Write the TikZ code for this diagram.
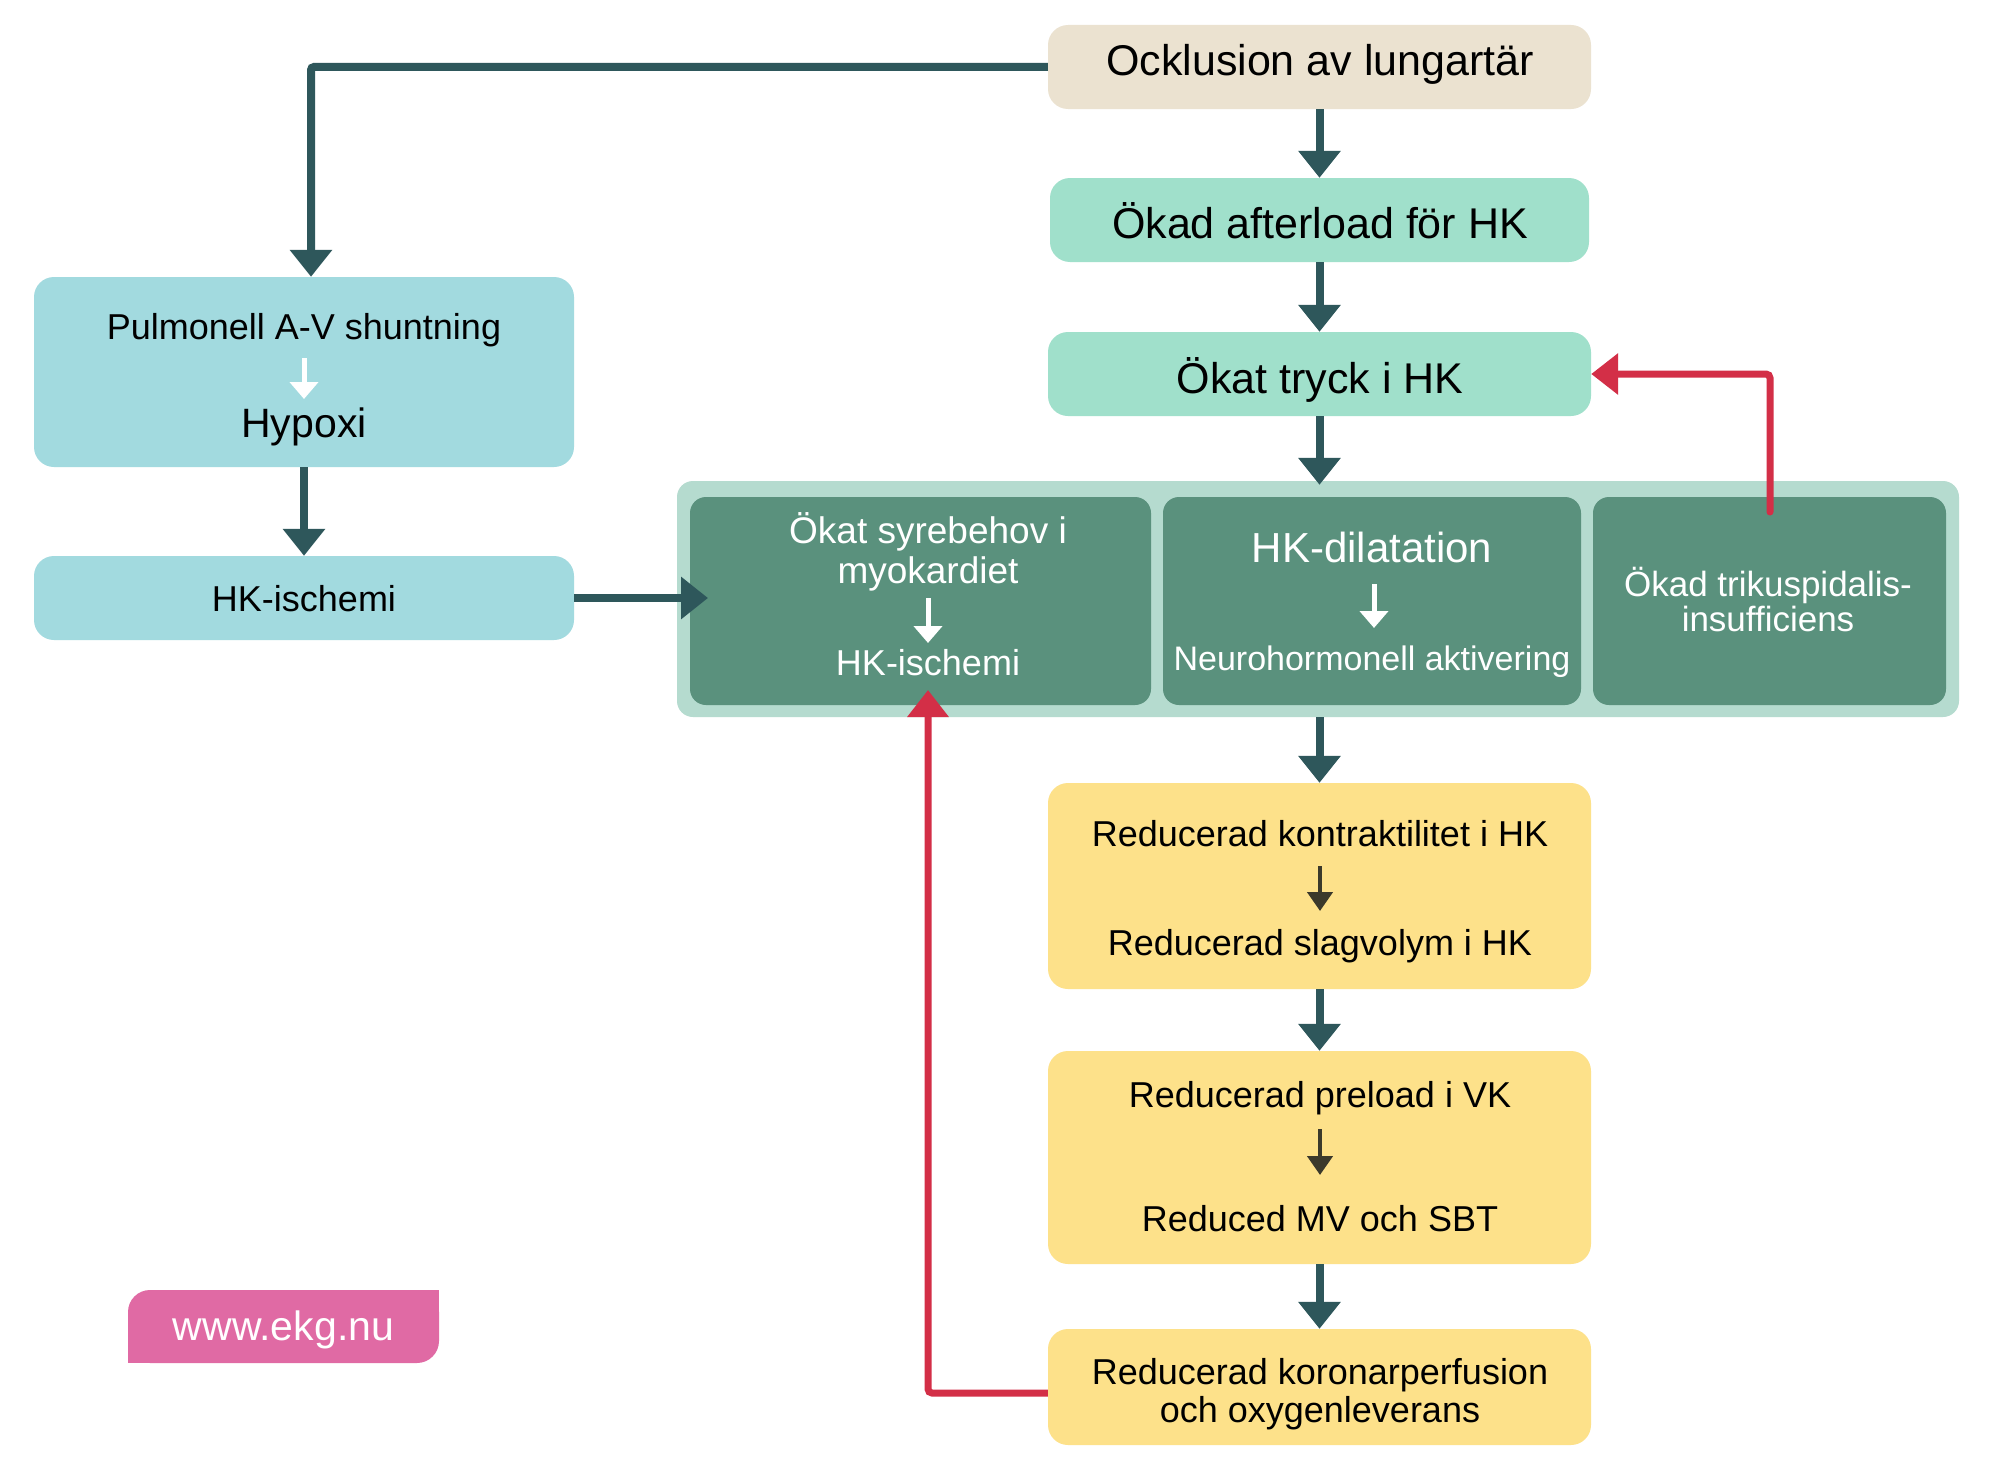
\documentclass[tikz,border=0pt]{standalone}
\usepackage{fontspec}
\setmainfont{Liberation Sans}
\usetikzlibrary{arrows.meta}
\definecolor{occc}{HTML}{EBE2D0}
\definecolor{mintc}{HTML}{A0E0CB}
\definecolor{cyanc}{HTML}{A2DADF}
\definecolor{outerc}{HTML}{B5DBCF}
\definecolor{darkgc}{HTML}{5A917D}
\definecolor{yellowc}{HTML}{FDE18A}
\definecolor{pinkc}{HTML}{E06AA4}
\definecolor{arrowc}{HTML}{2E575B}
\definecolor{redc}{HTML}{D32F47}
\definecolor{olivec}{HTML}{3B392B}
\newcommand\fsz[1]{\fontsize{#1}{#1}\selectfont}
\begin{document}
\begin{tikzpicture}[x=1pt,y=-1pt,
  box/.style={rectangle, rounded corners=20pt, inner sep=0pt, draw=none},
  ibox/.style={rectangle, rounded corners=16pt, inner sep=0pt, draw=none, fill=darkgc},
  txt/.style={anchor=base, inner sep=0pt, align=center},
  flow/.style={draw=arrowc, line width=8pt, -{Triangle[width=41pt,length=27pt]}},
  fb/.style={draw=redc, line width=7pt, -{Triangle[width=40pt,length=27pt]}, rounded corners=4pt},
  wa/.style={draw=white, line width=5pt, -{Triangle[width=28pt,length=17pt]}},
  ya/.style={draw=olivec, line width=4.5pt, -{Triangle[width=25pt,length=19pt]}},
]
\useasboundingbox[fill=white] (0,0) rectangle (2000,1480);

% boxes
\node[box, fill=occc, minimum width=543pt, minimum height=84pt] (occ) at (1319.5,67) {};
\node[box, fill=mintc, minimum width=539pt, minimum height=84pt] (after) at (1319.5,220) {};
\node[box, fill=mintc, minimum width=543pt, minimum height=84pt] (tryck) at (1319.5,374) {};
\node[box, fill=cyanc, minimum width=540pt, minimum height=190pt] (pulm) at (304,372) {};
\node[box, fill=cyanc, minimum width=540pt, minimum height=84pt] (hkl) at (304,598) {};
\node[rectangle, rounded corners=16pt, inner sep=0pt, fill=outerc, minimum width=1282pt, minimum height=236pt] (outer) at (1318,599) {};
\node[ibox, minimum width=461pt, minimum height=208pt] (b1) at (920.5,601) {};
\node[ibox, minimum width=418pt, minimum height=208pt] (b2) at (1372,601) {};
\node[ibox, minimum width=353pt, minimum height=208pt] (b3) at (1769.5,601) {};
\node[box, fill=yellowc, minimum width=543pt, minimum height=206pt] (y1) at (1319.5,886) {};
\node[box, fill=yellowc, minimum width=543pt, minimum height=213pt] (y2) at (1319.5,1157.5) {};
\node[box, fill=yellowc, minimum width=543pt, minimum height=116pt] (y3) at (1319.5,1387) {};
\node[box, rounded corners=22pt, fill=pinkc, minimum width=311pt, minimum height=73pt] (ekg) at (283.5,1326.5) {};
\fill[pinkc] (ekg.north east) rectangle ++(-30,30);
\fill[pinkc] (ekg.south west) rectangle ++(30,-30);

% texts
\node[txt, font=\fsz{43}] (t-occ) at (1320,75) {Ocklusion av lungartär};
\node[txt, font=\fsz{43}] (t-after) at (1320,238) {Ökad afterload för HK};
\node[txt, font=\fsz{43}] (t-tryck) at (1320,393) {Ökat tryck i HK};
\node[txt, font=\fsz{36}] (t-pulm) at (304,339) {Pulmonell A-V shuntning};
\node[txt, font=\fsz{41}] (t-hyp) at (304,437) {Hypoxi};
\node[txt, font=\fsz{36}] (t-hkl) at (304,611) {HK-ischemi};
\node[txt, font=\fsz{37}, text=white] (t-b1a) at (928,543) {Ökat syrebehov i};
\node[txt, font=\fsz{37}, text=white] (t-b1b) at (928,583) {myokardiet};
\node[txt, font=\fsz{36}, text=white] (t-b1c) at (928,675) {HK-ischemi};
\node[txt, font=\fsz{42}, text=white] (t-b2a) at (1372,562) {HK-dilatation};
\node[txt, font=\fsz{34}, text=white] (t-b2b) at (1372,670) {Neurohormonell aktivering};
\node[txt, font=\fsz{35}, text=white] (t-b3a) at (1768,596) {Ökad trikuspidalis-};
\node[txt, font=\fsz{35}, text=white] (t-b3b) at (1768,631) {insufficiens};
\node[txt, font=\fsz{36}] (t-y1a) at (1320,846) {Reducerad kontraktilitet i HK};
\node[txt, font=\fsz{36}] (t-y1b) at (1320,955) {Reducerad slagvolym i HK};
\node[txt, font=\fsz{36}] (t-y2a) at (1320,1107) {Reducerad preload i VK};
\node[txt, font=\fsz{36}] (t-y2b) at (1320,1231) {Reduced MV och SBT};
\node[txt, font=\fsz{36}] (t-y3a) at (1320,1384) {Reducerad koronarperfusion};
\node[txt, font=\fsz{36}] (t-y3b) at (1320,1422) {och oxygenleverans};
\node[txt, font=\fsz{41}, text=white] (t-ekg) at (283.5,1340) {www.ekg.nu};

% inner arrows
\coordinate (pa1) at (304,358); \coordinate (pa2) at (304,399);
\coordinate (ba1) at (928,598); \coordinate (ba2) at (928,643);
\coordinate (bb1) at (1374,584); \coordinate (bb2) at (1374,628);
\coordinate (ya1) at (1320,866); \coordinate (ya2) at (1320,911);
\coordinate (yb1) at (1320,1129); \coordinate (yb2) at (1320,1175);
\draw[wa] (pa1) -- (pa2);
\draw[wa] (ba1) -- (ba2);
\draw[wa] (bb1) -- (bb2);
\draw[ya] (ya1) -- (ya2);
\draw[ya] (yb1) -- (yb2);

% connectors
\draw[flow, rounded corners=3pt] (occ.west) -| ([xshift=7pt]pulm.north);
\draw[flow] (occ) -- (after);
\draw[flow] (after) -- (tryck);
\draw[flow] (tryck.south) -- ([yshift=-4pt]outer.north -| tryck.south);
\draw[flow] (outer.south -| y1.north) -- (y1.north);
\draw[flow] (y1) -- (y2);
\draw[flow] (y2) -- (y3);
\draw[flow] (pulm) -- (hkl);
\coordinate (hkin) at (708,598);
\draw[flow] (hkl.east) -- (hkin);
\coordinate (rs) at (1770,512);
\draw[fb, line cap=round] (rs) |- (tryck.east);
\coordinate (rt) at (928,690);
\draw[fb] (y3.west |- 0,1393) -| (rt);
\end{tikzpicture}
\end{document}
